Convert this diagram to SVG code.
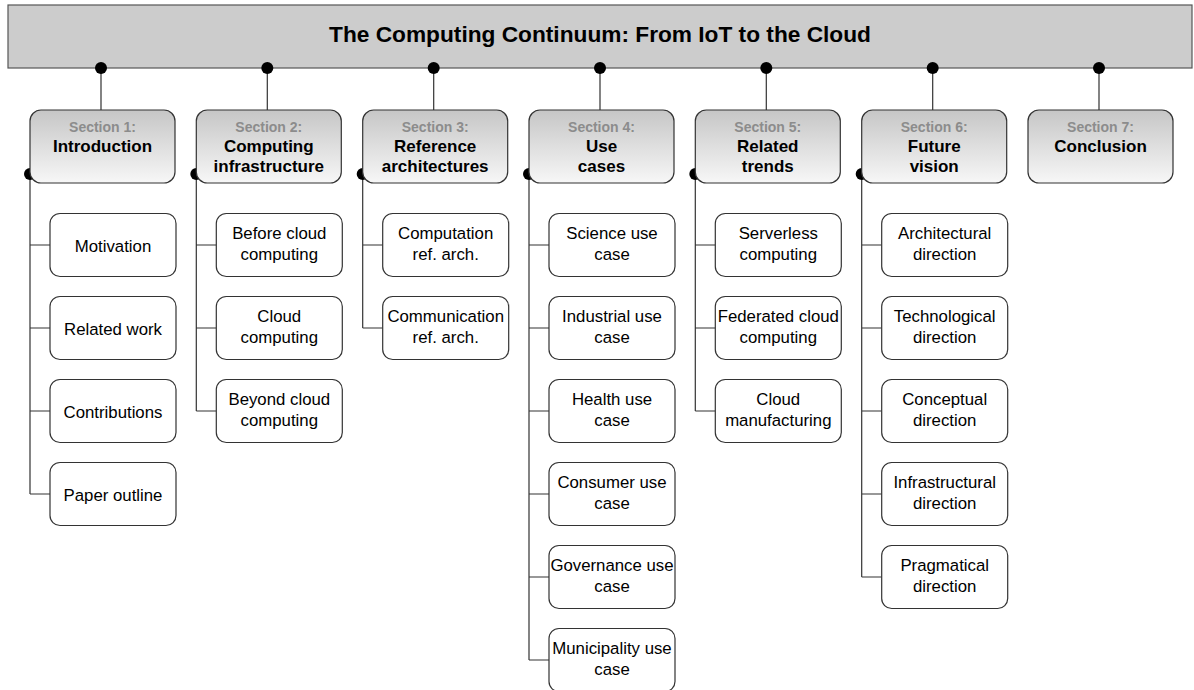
<svg xmlns="http://www.w3.org/2000/svg" width="1194" height="690" viewBox="0 0 1194 690">
  <defs>
    <linearGradient id="secFill" x1="0" y1="0" x2="0" y2="1">
      <stop offset="0" stop-color="#c6c6c6"/>
      <stop offset="1" stop-color="#f7f7f7"/>
    </linearGradient>
  </defs>
  <style>
    .bar { fill: #cccccc; stroke: #555555; stroke-width: 1.2; }
    .title { font-family: "Liberation Sans", Arial, sans-serif; font-weight: bold; font-size: 22.7px; fill: #000; text-anchor: middle; }
    .sec { fill: url(#secFill); stroke: #333333; stroke-width: 1.2; }
    .secnum { font-family: "Liberation Sans", Arial, sans-serif; font-weight: bold; font-size: 14px; fill: #8c8c8c; text-anchor: middle; }
    .secname { font-family: "Liberation Sans", Arial, sans-serif; font-weight: bold; font-size: 17px; fill: #000; text-anchor: middle; }
    .item { fill: #ffffff; stroke: #333333; stroke-width: 1.2; }
    .itemtxt { font-family: "Liberation Sans", Arial, sans-serif; font-size: 16.8px; fill: #000; text-anchor: middle; }
    .wire { fill: none; stroke: #333333; stroke-width: 1.2; }
    .dot { fill: #000000; }
  </style>

  <!-- Title bar -->
  <g id="root">
    <rect class="bar" x="8" y="5" width="1184" height="63"/>
    <text class="title" x="600" y="42">The Computing Continuum: From IoT to the Cloud</text>
  </g>

  <!-- Connectors -->
  <g id="connectors">
    <!-- bar to section headers -->
    <path class="wire" d="M101,68V110 M267.3,68V110 M433.7,68V110 M600,68V110 M766.3,68V110 M932.7,68V110 M1099,68V110"/>
    <circle class="dot" cx="101" cy="68" r="6"/>
    <circle class="dot" cx="267.3" cy="68" r="6"/>
    <circle class="dot" cx="433.7" cy="68" r="6"/>
    <circle class="dot" cx="600" cy="68" r="6"/>
    <circle class="dot" cx="766.3" cy="68" r="6"/>
    <circle class="dot" cx="932.7" cy="68" r="6"/>
    <circle class="dot" cx="1099" cy="68" r="6"/>
    <!-- section 1 -->
    <path class="wire" d="M30,174V494 M30,245H50 M30,328H50 M30,411H50 M30,494H50"/>
    <circle class="dot" cx="30" cy="174" r="6"/>
    <!-- section 2 -->
    <path class="wire" d="M196.3,174V411 M196.3,245H216.3 M196.3,328H216.3 M196.3,411H216.3"/>
    <circle class="dot" cx="196.3" cy="174" r="6"/>
    <!-- section 3 -->
    <path class="wire" d="M362.7,174V328 M362.7,245H382.7 M362.7,328H382.7"/>
    <circle class="dot" cx="362.7" cy="174" r="6"/>
    <!-- section 4 -->
    <path class="wire" d="M529,174V660 M529,245H549 M529,328H549 M529,411H549 M529,494H549 M529,577H549 M529,660H549"/>
    <circle class="dot" cx="529" cy="174" r="6"/>
    <!-- section 5 -->
    <path class="wire" d="M695.3,174V411 M695.3,245H715.3 M695.3,328H715.3 M695.3,411H715.3"/>
    <circle class="dot" cx="695.3" cy="174" r="6"/>
    <!-- section 6 -->
    <path class="wire" d="M861.7,174V577 M861.7,245H881.7 M861.7,328H881.7 M861.7,411H881.7 M861.7,494H881.7 M861.7,577H881.7"/>
    <circle class="dot" cx="861.7" cy="174" r="6"/>
  </g>

  <!-- Section headers -->
  <g id="sec1">
    <rect class="sec" x="30" y="110" width="145" height="73" rx="11"/>
    <text class="secnum" x="102.5" y="132">Section 1:</text>
    <text class="secname" x="102.5" y="152">Introduction</text>
  </g>
  <g id="sec2">
    <rect class="sec" x="196.3" y="110" width="145" height="73" rx="11"/>
    <text class="secnum" x="268.8" y="132">Section 2:</text>
    <text class="secname" x="268.8" y="152">Computing</text>
    <text class="secname" x="268.8" y="172">infrastructure</text>
  </g>
  <g id="sec3">
    <rect class="sec" x="362.7" y="110" width="145" height="73" rx="11"/>
    <text class="secnum" x="435.2" y="132">Section 3:</text>
    <text class="secname" x="435.2" y="152">Reference</text>
    <text class="secname" x="435.2" y="172">architectures</text>
  </g>
  <g id="sec4">
    <rect class="sec" x="529" y="110" width="145" height="73" rx="11"/>
    <text class="secnum" x="601.5" y="132">Section 4:</text>
    <text class="secname" x="601.5" y="152">Use</text>
    <text class="secname" x="601.5" y="172">cases</text>
  </g>
  <g id="sec5">
    <rect class="sec" x="695.3" y="110" width="145" height="73" rx="11"/>
    <text class="secnum" x="767.8" y="132">Section 5:</text>
    <text class="secname" x="767.8" y="152">Related</text>
    <text class="secname" x="767.8" y="172">trends</text>
  </g>
  <g id="sec6">
    <rect class="sec" x="861.7" y="110" width="145" height="73" rx="11"/>
    <text class="secnum" x="934.2" y="132">Section 6:</text>
    <text class="secname" x="934.2" y="152">Future</text>
    <text class="secname" x="934.2" y="172">vision</text>
  </g>
  <g id="sec7">
    <rect class="sec" x="1028" y="110" width="145" height="73" rx="11"/>
    <text class="secnum" x="1100.5" y="132">Section 7:</text>
    <text class="secname" x="1100.5" y="152">Conclusion</text>
  </g>

  <!-- Section 1 items -->
  <g id="s1-motivation">
    <rect class="item" x="50" y="213.5" width="126" height="63" rx="10"/>
    <text class="itemtxt" x="113" y="251.5">Motivation</text>
  </g>
  <g id="s1-related">
    <rect class="item" x="50" y="296.5" width="126" height="63" rx="10"/>
    <text class="itemtxt" x="113" y="334.5">Related work</text>
  </g>
  <g id="s1-contrib">
    <rect class="item" x="50" y="379.5" width="126" height="63" rx="10"/>
    <text class="itemtxt" x="113" y="417.5">Contributions</text>
  </g>
  <g id="s1-outline">
    <rect class="item" x="50" y="462.5" width="126" height="63" rx="10"/>
    <text class="itemtxt" x="113" y="500.5">Paper outline</text>
  </g>

  <!-- Section 2 items -->
  <g id="s2-before">
    <rect class="item" x="216.3" y="213.5" width="126" height="63" rx="10"/>
    <text class="itemtxt" x="279.3" y="239">Before cloud</text>
    <text class="itemtxt" x="279.3" y="260">computing</text>
  </g>
  <g id="s2-cloud">
    <rect class="item" x="216.3" y="296.5" width="126" height="63" rx="10"/>
    <text class="itemtxt" x="279.3" y="322">Cloud</text>
    <text class="itemtxt" x="279.3" y="343">computing</text>
  </g>
  <g id="s2-beyond">
    <rect class="item" x="216.3" y="379.5" width="126" height="63" rx="10"/>
    <text class="itemtxt" x="279.3" y="405">Beyond cloud</text>
    <text class="itemtxt" x="279.3" y="426">computing</text>
  </g>

  <!-- Section 3 items -->
  <g id="s3-computation">
    <rect class="item" x="382.7" y="213.5" width="126" height="63" rx="10"/>
    <text class="itemtxt" x="445.7" y="239">Computation</text>
    <text class="itemtxt" x="445.7" y="260">ref. arch.</text>
  </g>
  <g id="s3-communication">
    <rect class="item" x="382.7" y="296.5" width="126" height="63" rx="10"/>
    <text class="itemtxt" x="445.7" y="322">Communication</text>
    <text class="itemtxt" x="445.7" y="343">ref. arch.</text>
  </g>

  <!-- Section 4 items -->
  <g id="s4-science">
    <rect class="item" x="549" y="213.5" width="126" height="63" rx="10"/>
    <text class="itemtxt" x="612" y="239">Science use</text>
    <text class="itemtxt" x="612" y="260">case</text>
  </g>
  <g id="s4-industrial">
    <rect class="item" x="549" y="296.5" width="126" height="63" rx="10"/>
    <text class="itemtxt" x="612" y="322">Industrial use</text>
    <text class="itemtxt" x="612" y="343">case</text>
  </g>
  <g id="s4-health">
    <rect class="item" x="549" y="379.5" width="126" height="63" rx="10"/>
    <text class="itemtxt" x="612" y="405">Health use</text>
    <text class="itemtxt" x="612" y="426">case</text>
  </g>
  <g id="s4-consumer">
    <rect class="item" x="549" y="462.5" width="126" height="63" rx="10"/>
    <text class="itemtxt" x="612" y="488">Consumer use</text>
    <text class="itemtxt" x="612" y="509">case</text>
  </g>
  <g id="s4-governance">
    <rect class="item" x="549" y="545.5" width="126" height="63" rx="10"/>
    <text class="itemtxt" x="612" y="571">Governance use</text>
    <text class="itemtxt" x="612" y="592">case</text>
  </g>
  <g id="s4-municipality">
    <rect class="item" x="549" y="628.5" width="126" height="63" rx="10"/>
    <text class="itemtxt" x="612" y="654">Municipality use</text>
    <text class="itemtxt" x="612" y="675">case</text>
  </g>

  <!-- Section 5 items -->
  <g id="s5-serverless">
    <rect class="item" x="715.3" y="213.5" width="126" height="63" rx="10"/>
    <text class="itemtxt" x="778.3" y="239">Serverless</text>
    <text class="itemtxt" x="778.3" y="260">computing</text>
  </g>
  <g id="s5-federated">
    <rect class="item" x="715.3" y="296.5" width="126" height="63" rx="10"/>
    <text class="itemtxt" x="778.3" y="322">Federated cloud</text>
    <text class="itemtxt" x="778.3" y="343">computing</text>
  </g>
  <g id="s5-manufacturing">
    <rect class="item" x="715.3" y="379.5" width="126" height="63" rx="10"/>
    <text class="itemtxt" x="778.3" y="405">Cloud</text>
    <text class="itemtxt" x="778.3" y="426">manufacturing</text>
  </g>

  <!-- Section 6 items -->
  <g id="s6-architectural">
    <rect class="item" x="881.7" y="213.5" width="126" height="63" rx="10"/>
    <text class="itemtxt" x="944.7" y="239">Architectural</text>
    <text class="itemtxt" x="944.7" y="260">direction</text>
  </g>
  <g id="s6-technological">
    <rect class="item" x="881.7" y="296.5" width="126" height="63" rx="10"/>
    <text class="itemtxt" x="944.7" y="322">Technological</text>
    <text class="itemtxt" x="944.7" y="343">direction</text>
  </g>
  <g id="s6-conceptual">
    <rect class="item" x="881.7" y="379.5" width="126" height="63" rx="10"/>
    <text class="itemtxt" x="944.7" y="405">Conceptual</text>
    <text class="itemtxt" x="944.7" y="426">direction</text>
  </g>
  <g id="s6-infrastructural">
    <rect class="item" x="881.7" y="462.5" width="126" height="63" rx="10"/>
    <text class="itemtxt" x="944.7" y="488">Infrastructural</text>
    <text class="itemtxt" x="944.7" y="509">direction</text>
  </g>
  <g id="s6-pragmatical">
    <rect class="item" x="881.7" y="545.5" width="126" height="63" rx="10"/>
    <text class="itemtxt" x="944.7" y="571">Pragmatical</text>
    <text class="itemtxt" x="944.7" y="592">direction</text>
  </g>
</svg>
